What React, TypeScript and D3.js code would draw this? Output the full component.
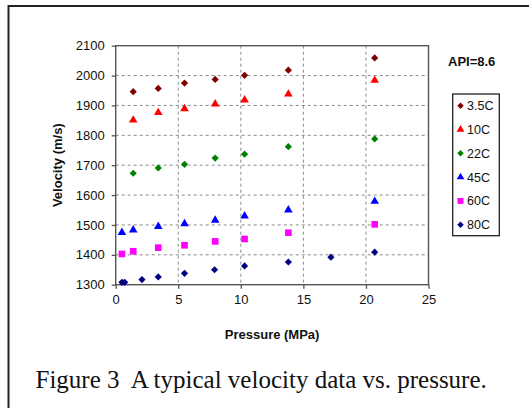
import { useRef, useMemo, useEffect } from 'react';
import * as d3 from 'd3';

// pressure (MPa) readings
const pressLow = [0.5, 1.4, 3.4, 5.5, 7.95, 10.3, 13.8, 20.7];
const pressHi = [1.4, 3.4, 5.5, 7.95, 10.3, 13.8, 20.7];
const press80 = [0.5, 0.72, 2.1, 3.4, 5.5, 7.9, 10.3, 13.8, 17.2, 20.7];

// velocity (m/s) per temperature
const v35 = [1946, 1957, 1975, 1987, 2001, 2018, 2059];
const v10 = [1851, 1876, 1889, 1905, 1918, 1938, 1984];
const v22 = [1673, 1691, 1703, 1724, 1737, 1762, 1788];
const v45 = [1475, 1483, 1495, 1504, 1516, 1530, 1550, 1579];
const v60 = [1403, 1412, 1424, 1432, 1445, 1453, 1474, 1502];
const v80 = [1308, 1308, 1317, 1326, 1338, 1350, 1363, 1376, 1392, 1409];

const seriesNames = ['3.5C', '10C', '22C', '45C', '60C', '80C'];
const seriesColors = ['#800000', '#ff0000', '#008000', '#0000ff', '#ff00ff', '#000080'];
const seriesShapes = ['diamond', 'triangle', 'diamond', 'triangle', 'square', 'diamond'];

const xTicks = [0, 5, 10, 15, 20, 25];
const yTicks = [1300, 1400, 1500, 1600, 1700, 1800, 1900, 2000, 2100];

const FONT = 'Arial, "Liberation Sans", sans-serif';

const symbolPath = (shape: string, scale = 1) => {
  if (shape === 'triangle') return d3.symbol().type(d3.symbolTriangle).size(32 * scale)();
  if (shape === 'square') return d3.symbol().type(d3.symbolSquare).size(44 * scale)();
  return d3.symbol().type(d3.symbolSquare).size(26 * scale)();
};

const App = () => {
  const width = 529;
  const height = 408;
  const left = 115.7, right = 428.5, top = 45.7, bottom = 284.7;

  const axesRef = useRef<SVGGElement>(null);

  const xScale = useMemo(() => d3.scaleLinear().domain([0, 25]).range([left, right]), []);
  const yScale = useMemo(() => d3.scaleLinear().domain([1300, 2100]).range([bottom, top]), []);

  const series = useMemo(() => {
    const ys = [v35, v10, v22, v45, v60, v80];
    const xs = [pressHi, pressHi, pressHi, pressLow, pressLow, press80];
    return seriesNames.map((name, i) => ({
      name,
      color: seriesColors[i],
      shape: seriesShapes[i],
      points: ys[i].map((v, j) => ({ x: xs[i][j], y: v })),
    }));
  }, []);

  useEffect(() => {
    const g = d3.select(axesRef.current);
    g.selectAll('*').remove();

    // X AXIS
    g.append('g')
      .attr('transform', `translate(0, ${bottom})`)
      .call(d3.axisBottom(xScale).tickValues(xTicks).tickSize(4).tickSizeOuter(0).tickPadding(6))
      .call(s => s.select('.domain').remove())
      .call(s => s.selectAll('line').attr('stroke', '#555').attr('stroke-width', 1.3))
      .call(s => s.selectAll('text').attr('font-size', 13).attr('font-family', FONT).attr('fill', '#111'));

    // Y AXIS
    g.append('g')
      .attr('transform', `translate(${left}, 0)`)
      .call(d3.axisLeft(yScale).tickValues(yTicks).tickFormat(d3.format('d')).tickSize(4).tickSizeOuter(0).tickPadding(7))
      .call(s => s.select('.domain').remove())
      .call(s => s.selectAll('line').attr('stroke', '#555').attr('stroke-width', 1.3))
      .call(s => s.selectAll('text').attr('font-size', 13).attr('font-family', FONT).attr('fill', '#111'));
  }, [xScale, yScale]);

  return (
    <svg
      width={width}
      height={height}
      style={{ position: 'absolute', left: 0, top: 0, background: '#fff' }}
    >
      {/* outer frame */}
      <path d={`M8.5,${height} V6 H${width}`} fill="none" stroke="#222" strokeWidth={2} />

      {/* grid */}
      <g stroke="#8a8a8a" strokeWidth={1} strokeDasharray="3,3">
        {yTicks.slice(1, -1).map(t => (
          <line key={t} x1={left} x2={right} y1={yScale(t)} y2={yScale(t)} />
        ))}
        {xTicks.slice(1, -1).map(t => (
          <line key={t} x1={xScale(t)} x2={xScale(t)} y1={top} y2={bottom} />
        ))}
      </g>
      <rect x={left} y={top} width={right - left} height={bottom - top} fill="none" stroke="#555" strokeWidth={1.4} />

      <g ref={axesRef} />

      {/* points */}
      {series.map(s => (
        <g key={s.name} fill={s.color}>
          {s.points.map((p, k) => (
            <path
              key={k}
              d={symbolPath(s.shape) || ''}
              transform={`translate(${xScale(p.x)}, ${yScale(p.y)})${s.shape === 'diamond' ? ' rotate(45)' : ''}`}
            />
          ))}
        </g>
      ))}

      {/* axis titles */}
      <text x={(left + right) / 2} y={339} textAnchor="middle" fontFamily={FONT} fontWeight="bold" fontSize={13} fill="#111">
        Pressure (MPa)
      </text>
      <text
        transform={`translate(62, ${(top + bottom) / 2}) rotate(-90)`}
        textAnchor="middle"
        fontFamily={FONT}
        fontWeight="bold"
        fontSize={13}
        fill="#111"
      >
        Velocity (m/s)
      </text>

      <text x={448} y={66} fontFamily={FONT} fontWeight="bold" fontSize={13} fill="#111">API=8.6</text>

      {/* legend */}
      <rect x={452.7} y={94} width={46.6} height={141.7} fill="#fff" stroke="#222" strokeWidth={1.3} />
      {series.map((s, i) => {
        const ly = 105.7 + i * 23.8;
        return (
          <g key={s.name}>
            <path
              d={symbolPath(s.shape, 0.8) || ''}
              fill={s.color}
              transform={`translate(460.5, ${ly})${s.shape === 'diamond' ? ' rotate(45)' : ''}`}
            />
            <text x={467} y={ly + 4.5} fontFamily={FONT} fontSize={12.5} fill="#111">{s.name}</text>
          </g>
        );
      })}

      {/* caption */}
      <text
        x={35.5}
        y={388}
        xmlSpace="preserve"
        fontFamily='"Times New Roman", "Liberation Serif", serif'
        fontSize={25}
        fill="#111"
        style={{ whiteSpace: 'pre' }}
      >
        {'Figure 3  A typical velocity data vs. pressure.'}
      </text>
    </svg>
  );
};

export default App;
